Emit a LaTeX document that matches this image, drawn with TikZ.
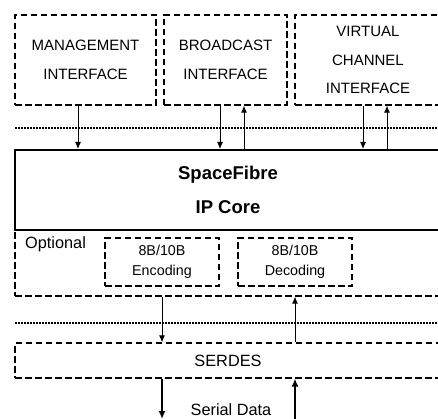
\documentclass[tikz,border=0pt]{standalone}
\usepackage{fontspec}
\setmainfont{Liberation Sans}
\usetikzlibrary{arrows.meta,positioning}
\begin{document}
\begin{tikzpicture}[x=1pt,y=-1pt,
  dbox/.style={draw,dashed,dash pattern=on 6.5pt off 3.5pt,line width=1.1pt,inner sep=0pt,align=center},
  lbl/.style={font=\fontsize{15}{28.5}\selectfont},
  small/.style={font=\fontsize{14.3}{20}\selectfont},
  arr/.style={line width=1pt,-{Latex[length=7pt,width=6pt]}},
  tarr/.style={line width=2.2pt,-{Latex[length=8pt,width=7pt]}},
  dotline/.style={line width=1.6pt,dash pattern=on 1.5pt off 1.5pt}]
\useasboundingbox (0,0) rectangle (438,419);
\clip (0,0) rectangle (438,419);
% top interface boxes
\node[dbox,lbl,minimum width=141pt,minimum height=90pt] (mgmt) at (85.5,60) {MANAGEMENT\\INTERFACE};
\node[dbox,lbl,minimum width=123pt,minimum height=90pt] (bcast) at (225.5,60) {BROADCAST\\INTERFACE};
\node[dbox,lbl,minimum width=146pt,minimum height=90pt] (vc) at (368,60) {VIRTUAL\\CHANNEL\\INTERFACE};
% dotted line
\coordinate (d1a) at (15,128);
\coordinate (d1b) at (445,128);
\draw[dotline] (d1a) -- (d1b);
% optional region
\node[dbox,minimum width=426pt,minimum height=66pt] (opt) at (228,263) {};
\node[anchor=north west,inner sep=0pt,font=\fontsize{16.3}{18}\selectfont] (optl) at (25,236.5) {Optional};
% core
\node[draw,line width=2pt,minimum width=426pt,minimum height=80pt,align=center,inner sep=0pt,
      font=\fontsize{18.5}{34}\bfseries\selectfont] (core) at (228,190) {SpaceFibre\\IP Core};
% enc/dec
\node[dbox,small,minimum width=114pt,minimum height=48pt] (enc) at (162,262) {8B/10B\\Encoding};
\node[dbox,small,minimum width=114pt,minimum height=48pt] (dec) at (295,262) {8B/10B\\Decoding};
% second dotted line
\coordinate (d2a) at (15,323);
\coordinate (d2b) at (445,323);
\draw[dotline] (d2a) -- (d2b);
% serdes
\node[dbox,font=\fontsize{16.3}{18}\selectfont,minimum width=426pt,minimum height=35pt] (serdes) at (228,360.5) {SERDES};
% arrows top
\draw[arr] ([xshift=-7.5pt]mgmt.south) -- ([xshift=-7.5pt]mgmt.south |- core.north);
\draw[arr] ([xshift=-5.5pt]bcast.south) -- ([xshift=-5.5pt]bcast.south |- core.north);
\draw[arr] ([xshift=18.5pt]bcast.south |- core.north) -- ([xshift=18.5pt]bcast.south);
\draw[arr] ([xshift=-5pt]vc.south) -- ([xshift=-5pt]vc.south |- core.north);
\draw[arr] ([xshift=19pt]vc.south |- core.north) -- ([xshift=19pt]vc.south);
% arrows middle
\draw[arr] (enc.south |- opt.south) -- (enc.south |- serdes.north);
\draw[arr] (dec.south |- serdes.north) -- (dec.south |- opt.south);
% serial data
\coordinate (sdown) at (162,419);
\coordinate (sup) at (295,425);
\draw[tarr] (enc.south |- serdes.south) -- (sdown);
\draw[tarr] (sup) -- (dec.south |- serdes.south);
\node[font=\fontsize{16.3}{18}\selectfont,inner sep=0pt] (sd) at (231,410) {Serial Data};
\end{tikzpicture}
\end{document}
